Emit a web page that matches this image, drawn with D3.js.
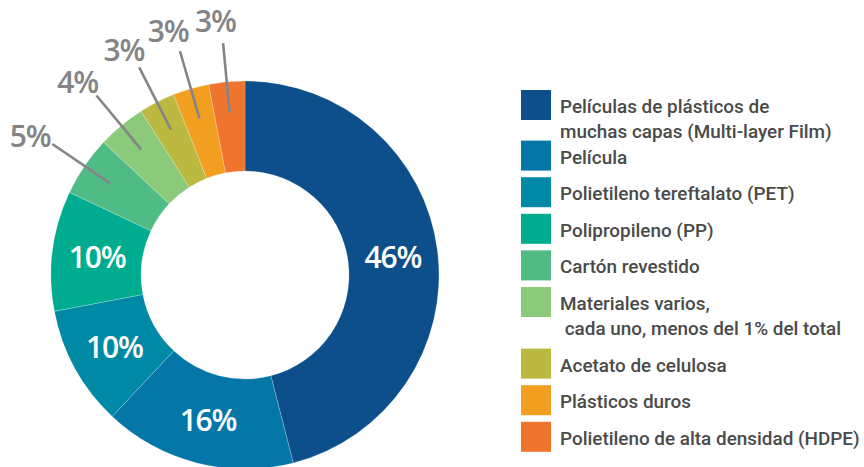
<!DOCTYPE html>
<html>
<head>
<meta charset="utf-8">
<script src="https://cdn.jsdelivr.net/npm/d3@7"></script>
<style>
  html, body { margin: 0; padding: 0; background: #ffffff; }
  svg { display: block; }
</style>
</head>
<body>
<svg id="chart" width="864" height="467"></svg>
<script>
const categories = [
  ["Películas de plásticos de", "muchas capas (Multi-layer Film)"],
  ["Película"],
  ["Polietileno tereftalato (PET)"],
  ["Polipropileno (PP)"],
  ["Cartón revestido"],
  ["Materiales varios,", " cada uno, menos del 1% del total"],
  ["Acetato de celulosa"],
  ["Plásticos duros"],
  ["Polietileno de alta densidad (HDPE)"]
];
const values = [46, 16, 10, 10, 5, 4, 3, 3, 3];
const colors = ["#0c4f8b", "#0477a8", "#0089a5", "#00ac8f", "#51bb86", "#8bca7b", "#bbb940", "#f29e20", "#ef742d"];
const outsideLabel = [false, false, false, false, true, true, true, true, true];

const svg = d3.select("#chart");
const cx = 245, cy = 275, rOuter = 194, rInner = 104;

const pie = d3.pie().value(d => d).sort(null);
const arcs = pie(values);
const arc = d3.arc().innerRadius(rInner).outerRadius(rOuter);
const labelArc = d3.arc().innerRadius(149).outerRadius(149);

const g = svg.append("g").attr("transform", `translate(${cx},${cy})`);

g.selectAll("path.slice")
  .data(arcs)
  .enter().append("path")
  .attr("class", "slice")
  .attr("d", arc)
  .attr("fill", (d, i) => colors[i])
  .attr("stroke", "#ffffff")
  .attr("stroke-opacity", 0.35)
  .attr("stroke-width", 0.6);

const pctFont = "'Open Sans', 'Noto Sans', sans-serif";

// inside labels
g.selectAll("text.inlab")
  .data(arcs.filter((d, i) => !outsideLabel[i]))
  .enter().append("text")
  .attr("class", "inlab")
  .attr("transform", d => `translate(${labelArc.centroid(d)})`)
  .attr("text-anchor", "middle")
  .attr("dominant-baseline", "central")
  .attr("fill", "#ffffff")
  .attr("font-family", pctFont)
  .attr("font-size", 30)
  .attr("font-weight", 600)
  .attr("letter-spacing", -1.2)
  .text(d => d.data + "%");

// outside labels with leader lines
const outs = arcs.filter((d, i) => outsideLabel[i]);
const mid = d => (d.startAngle + d.endAngle) / 2;
const pt = (a, r) => [r * Math.sin(a), -r * Math.cos(a)];

g.selectAll("line.leader")
  .data(outs)
  .enter().append("line")
  .attr("class", "leader")
  .attr("x1", d => pt(mid(d), 163)[0])
  .attr("y1", d => pt(mid(d), 163)[1])
  .attr("x2", d => pt(mid(d), 233)[0])
  .attr("y2", d => pt(mid(d), 233)[1])
  .attr("stroke", "#858587")
  .attr("stroke-width", 2.6);

g.selectAll("text.outlab")
  .data(outs)
  .enter().append("text")
  .attr("class", "outlab")
  .attr("transform", d => `translate(${pt(mid(d) - 0.022, 256)})`)
  .attr("text-anchor", "middle")
  .attr("dominant-baseline", "central")
  .attr("fill", "#848486")
  .attr("font-family", pctFont)
  .attr("font-size", 30)
  .attr("font-weight", 600)
  .attr("letter-spacing", -1.2)
  .text(d => d.data + "%");

// legend
const legend = svg.append("g").attr("font-family", "Roboto, sans-serif");
const swX = 521, sw = 30, textX = 560;
const baseGap = 36.6;
let y = 90;
categories.forEach((lines, i) => {
  const item = legend.append("g");
  item.append("rect")
    .attr("x", swX).attr("y", y)
    .attr("width", sw).attr("height", sw)
    .attr("fill", colors[i]);
  const t = item.append("text")
    .attr("fill", "#4a4a4a")
    .attr("font-size", 18.9)
    .attr("font-weight", 500)
    .attr("xml:space", "preserve");
  lines.forEach((ln, j) => {
    t.append("tspan")
      .attr("x", textX)
      .attr("y", y + sw / 2 + 8 + j * 25)
      .text(ln);
  });
  y += baseGap + (lines.length > 1 ? (i === 0 ? 14 : 25) : 0);
});
</script>
</body>
</html>
